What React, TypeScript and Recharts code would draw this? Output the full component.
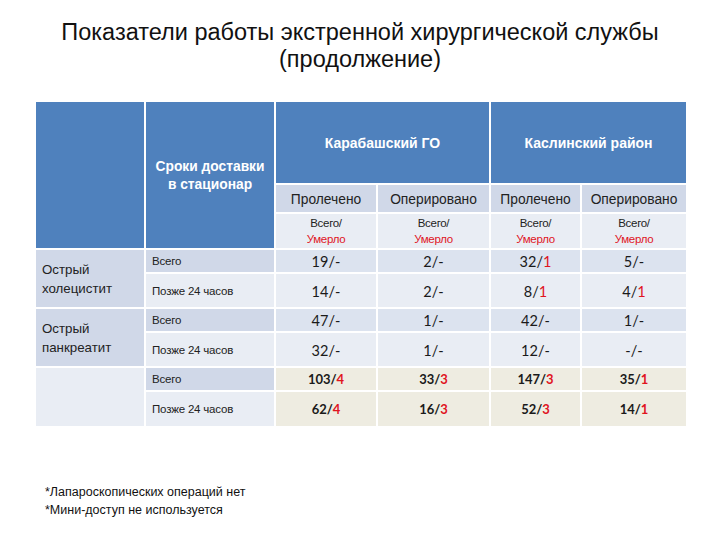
import { ComposedChart, Scatter, XAxis, YAxis } from "recharts";

// таблица: текст и значения
const TITLE = ["Показатели работы экстренной хирургической службы", "(продолжение)"];
const deliveryHeader = ["Сроки доставки", "в стационар"];
const districts = ["Карабашский ГО", "Каслинский район"];
const measures = ["Пролечено", "Оперировано"];
const unitLabel = ["Всего/", "Умерло"];
const diseases = [["Острый", "холецистит"], ["Острый", "панкреатит"], []];
const deliveryTerms = ["Всего", "Позже 24 часов"];
const footnotes = ["*Лапароскопических операций нет", "*Мини-доступ не используется"];

// по строкам: холецистит (всего, позже), панкреатит (всего, позже), итого (всего, позже)
const karabashTreatedTotal = ["19", "14", "47", "32", "103", "62"];
const karabashTreatedDied = ["-", "-", "-", "-", "4", "4"];
const karabashOperatedTotal = ["2", "2", "1", "1", "33", "16"];
const karabashOperatedDied = ["-", "-", "-", "-", "3", "3"];
const kaslinoTreatedTotal = ["32", "8", "42", "12", "147", "52"];
const kaslinoTreatedDied = ["1", "1", "-", "-", "3", "3"];
const kaslinoOperatedTotal = ["5", "4", "1", "-", "35", "14"];
const kaslinoOperatedDied = ["-", "1", "-", "-", "1", "1"];

// размеры сетки (px)
const colEdges = [0, 110, 240, 342, 455, 546, 652];
const rowEdges = [0, 83, 112, 148, 172, 207, 231, 266, 290, 326];
const W = 652;
const H = 326;

const BLUE = "#4F81BD";
const MID = "#D0D8E8";
const LIGHT = "#E9EDF4";
const DATA_ODD = "#DCE3EF";
const TOTAL = "#EEECE1";
const RED = "#E0141E";
const SANS = "'Liberation Sans', Arial, sans-serif";
const NUM = "Lato, 'Open Sans', sans-serif";

type Part = { text: string; color: string };
type Cell = {
  x: number; y: number; x0: number; x1: number; y0: number; y1: number;
  fill: string; lines: Part[][]; size: number; weight: string; font: string;
  align: "center" | "left"; lh: number; spacing?: number;
};

function cell(c0: number, c1: number, r0: number, r1: number, fill: string, lines: Part[][], opts: Partial<Cell> = {}): Cell {
  const x0 = colEdges[c0], x1 = colEdges[c1], y0 = rowEdges[r0], y1 = rowEdges[r1];
  return {
    x: (x0 + x1) / 2, y: (y0 + y1) / 2, x0, x1, y0, y1, fill, lines,
    size: 13, weight: "normal", font: SANS, align: "center", lh: 18, ...opts,
  };
}

const txt = (s: string, color = "#1a1a1a"): Part[] => [{ text: s, color }];

const valueCols = [
  [karabashTreatedTotal, karabashTreatedDied],
  [karabashOperatedTotal, karabashOperatedDied],
  [kaslinoTreatedTotal, kaslinoTreatedDied],
  [kaslinoOperatedTotal, kaslinoOperatedDied],
];

const cells: Cell[] = [];
cells.push(cell(0, 1, 0, 3, BLUE, []));
cells.push(cell(1, 2, 0, 3, BLUE, deliveryHeader.map((s) => txt(s, "#fff")), { weight: "bold", size: 13.8 }));
districts.forEach((d, i) => {
  cells.push(cell(2 + i * 2, 4 + i * 2, 0, 1, BLUE, [txt(d, "#fff")], { weight: "bold", size: 14 }));
  measures.forEach((m, j) => {
    const c = 2 + i * 2 + j;
    cells.push(cell(c, c + 1, 1, 2, MID, [txt(m, "#222")], { size: 13.8 }));
    cells.push(cell(c, c + 1, 2, 3, LIGHT, [txt(unitLabel[0], "#222"), txt(unitLabel[1], RED)], { size: 11.5, lh: 16, spacing: -0.3 }));
  });
});
diseases.forEach((lines, g) => {
  const r = 3 + g * 2;
  cells.push(cell(0, 1, r, r + 2, g < 2 ? MID : LIGHT, lines.map((s) => txt(s, "#222")), { align: "left", size: 13.3, lh: 19 }));
  deliveryTerms.forEach((t, k) => {
    const row = g * 2 + k;
    cells.push(cell(1, 2, r + k, r + k + 1, k === 0 ? MID : LIGHT, [txt(t, "#222")], { align: "left", size: 11.5, spacing: -0.2 }));
    valueCols.forEach(([tot, died], v) => {
      const fill = g === 2 ? TOTAL : k === 0 ? DATA_ODD : LIGHT;
      const parts: Part[] = [
        { text: tot[row] + "/", color: "#1a1a1a" },
        { text: died[row], color: died[row] === "-" ? "#1a1a1a" : RED },
      ];
      cells.push(cell(2 + v, 3 + v, r + k, r + k + 1, fill, [parts], {
        font: NUM,
        size: g === 2 ? 13 : 14.5,
        weight: g === 2 ? "bold" : "normal",
      }));
    });
  });
});

function CellShape(props: any) {
  const c: Cell = props.payload;
  const w = c.x1 - c.x0;
  const h = c.y1 - c.y0;
  const left = props.cx - w / 2;
  const top = props.cy - h / 2;
  const n = c.lines.length;
  const tx = c.align === "left" ? left + 7 : props.cx;
  return (
    <g>
      <rect x={left} y={top} width={w} height={h} fill={c.fill} stroke="#fff" strokeWidth={2} />
      {c.lines.map((parts, i) => (
        <text
          key={i}
          x={tx}
          y={props.cy + (i - (n - 1) / 2) * c.lh}
          dominantBaseline="central"
          textAnchor={c.align === "left" ? "start" : "middle"}
          fontFamily={c.font}
          fontSize={c.size}
          fontWeight={c.weight}
          letterSpacing={c.spacing ?? 0}
        >
          {parts.map((p, j) => (
            <tspan key={j} fill={p.color}>{p.text}</tspan>
          ))}
        </text>
      ))}
    </g>
  );
}

export default function App() {
  return (
    <div style={{ position: "absolute", left: 0, top: 0, width: 720, height: 540, background: "#fff", fontFamily: SANS }}>
      <div style={{ position: "absolute", left: 0, top: 19, width: 720, textAlign: "center", fontSize: 23.5, lineHeight: "27px", color: "#111" }}>
        {TITLE.map((t) => (
          <div key={t}>{t}</div>
        ))}
      </div>
      <div style={{ position: "absolute", left: 35, top: 101 }}>
        <ComposedChart width={W} height={H} margin={{ top: 0, right: 0, bottom: 0, left: 0 }}>
          <XAxis type="number" dataKey="x" domain={[0, W]} hide />
          <YAxis type="number" dataKey="y" domain={[0, H]} reversed hide />
          <Scatter data={cells} shape={<CellShape />} isAnimationActive={false} />
        </ComposedChart>
      </div>
      <div style={{ position: "absolute", left: 45, top: 484, fontSize: 12.5, lineHeight: "17.5px", color: "#111" }}>
        {footnotes.map((t) => (
          <div key={t}>{t}</div>
        ))}
      </div>
    </div>
  );
}
